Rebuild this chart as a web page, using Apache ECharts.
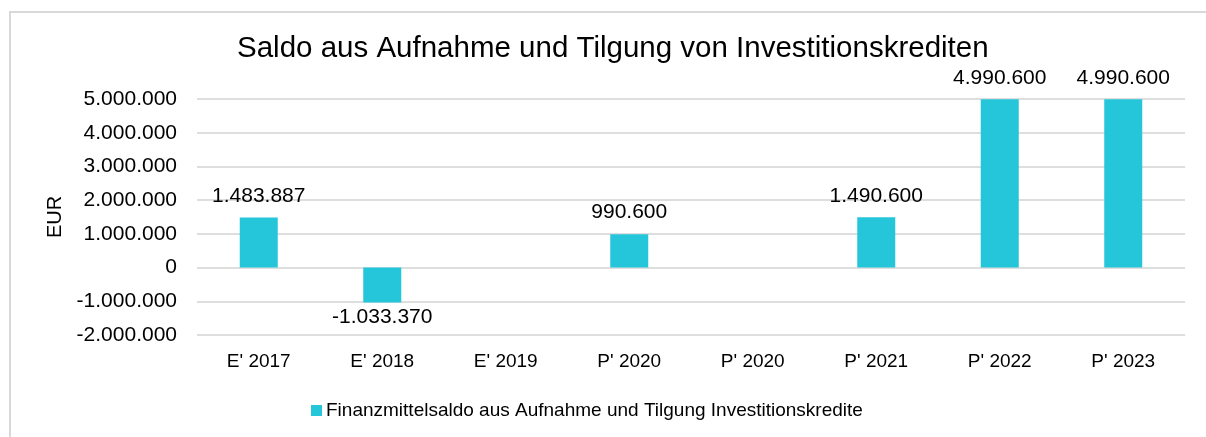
<!DOCTYPE html>
<html>
<head>
    <meta charset="UTF-8">
    <title>Saldo aus Aufnahme und Tilgung von Investitionskrediten</title>
    <script type="text/javascript" src="https://cdn.jsdelivr.net/npm/echarts@6/dist/echarts.min.js"></script>
</head>
<style type="text/css">
html, body { margin: 0; padding: 0; background: #fff; overflow: hidden; }
.frame { position: absolute; left: 9px; top: 11px; width: 1300px; height: 600px; border: 2px solid #d9d9d9; }
#chart { position: absolute; left: 0; top: 0; width: 1206px; height: 437px; }
</style>
<body>
    <div class="frame"></div>
    <div id="chart"></div>
</body>
</html>

<script type="text/javascript">
    // Kategorien und Werte
    var categories = ["E' 2017", "E' 2018", "E' 2019", "P' 2020", "P' 2020", "P' 2021", "P' 2022", "P' 2023"];
    var saldo = [1483887, -1033370, null, 990600, null, 1490600, 4990600, 4990600];
    var seriesName = 'Finanzmittelsaldo aus Aufnahme und Tilgung Investitionskredite';

    var font = "'Liberation Sans', Arial, sans-serif";

    // deutsche Tausenderpunkte
    function fmt(v) {
        var s = String(Math.abs(Math.round(v))).replace(/\B(?=(\d{3})+(?!\d))/g, '.');
        return (v < 0 ? '-' : '') + s;
    }

    var barData = saldo.map(function (v) {
        if (v === null) return '-';
        return {
            value: v,
            label: v < 0 ? { position: 'bottom', distance: 4 } : { position: 'top', distance: 11 }
        };
    });

    var myChart = echarts.init(document.getElementById('chart'));

    var option = {
        animation: false,
        title: {
            text: 'Saldo aus Aufnahme und Tilgung von Investitionskrediten',
            left: 237,
            top: 34,
            padding: 0,
            textStyle: { color: '#000', fontWeight: 'normal', fontSize: 29.5, fontFamily: font }
        },
        legend: {
            data: [seriesName],
            left: 306,
            top: 396,
            itemWidth: 11,
            itemHeight: 11,
            itemGap: 5,
            icon: 'rect',
            textStyle: { color: '#000', fontSize: 19, fontFamily: font, padding: [0, 0, 0, -1] }
        },
        grid: { left: 197, right: 21, top: 99, bottom: 102, containLabel: false },
        xAxis: {
            type: 'category',
            data: categories,
            axisLine: { show: false },
            axisTick: { show: false },
            axisLabel: { color: '#000', fontSize: 19, fontFamily: font, margin: 17 }
        },
        yAxis: {
            type: 'value',
            min: -2000000,
            max: 5000000,
            interval: 1000000,
            name: 'EUR',
            nameLocation: 'middle',
            nameGap: 132,
            nameTextStyle: { color: '#000', fontSize: 20, fontFamily: font },
            axisLine: { show: false },
            axisTick: { show: false },
            splitLine: { lineStyle: { color: '#dedede', width: 2 } },
            axisLabel: {
                color: '#000', fontSize: 21, fontFamily: font, margin: 20,
                formatter: function (v) { return fmt(v); }
            }
        },
        series: [{
            name: seriesName,
            type: 'bar',
            barWidth: 38,
            itemStyle: { color: '#26C6DA' },
            label: {
                show: true,
                color: '#000',
                fontSize: 21,
                fontFamily: font,
                formatter: function (p) { return fmt(p.value); }
            },
            data: barData
        }]
    };

    myChart.setOption(option);
</script>
